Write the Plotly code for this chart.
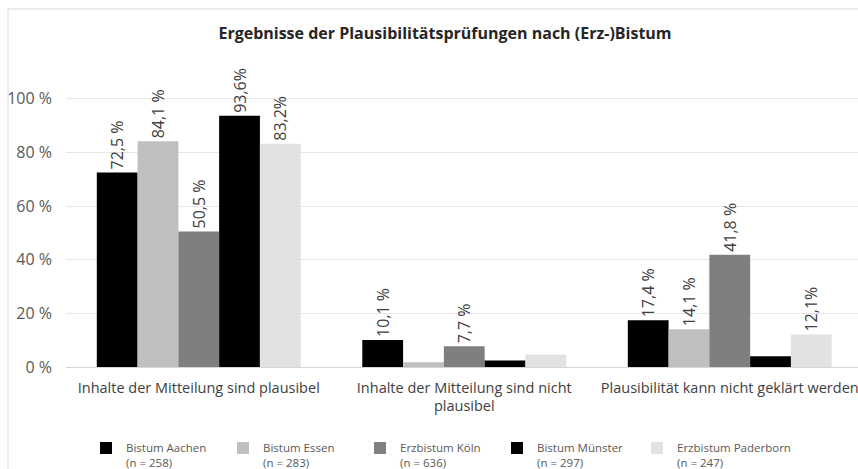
import plotly.graph_objects as go

categories = [
    "Inhalte der Mitteilung sind plausibel",
    "Inhalte der Mitteilung sind nicht<br>plausibel",
    "Plausibilität kann nicht geklärt werden",
]
series_names = [
    "Bistum Aachen<br>(n = 258)",
    "Bistum Essen<br>(n = 283)",
    "Erzbistum Köln<br>(n = 636)",
    "Bistum Münster<br>(n = 297)",
    "Erzbistum Paderborn<br>(n = 247)",
]
aachen = [72.5, 10.1, 17.4]
essen = [84.1, 1.8, 14.1]
koeln = [50.5, 7.7, 41.8]
muenster = [93.6, 2.4, 4.0]
paderborn = [83.2, 4.7, 12.1]

# labels as printed in the source (some bars carry none)
aachen_lbl = ["72,5 %", "10,1 %", "17,4 %"]
essen_lbl = ["84,1 %", "", "14,1 %"]
koeln_lbl = ["50,5 %", "7,7 %", "41,8 %"]
muenster_lbl = ["93,6%", "", ""]
paderborn_lbl = ["83,2%", "", "12,1%"]

y_ticks = [0, 20, 40, 60, 80, 100]
y_ticktext = ["0 %", "20 %", "40 %", "60 %", "80 %", "100 %"]

colors = ["#000000", "#bfbfbf", "#7f7f7f", "#000000", "#e2e2e2"]
values = [aachen, essen, koeln, muenster, paderborn]
labels = [aachen_lbl, essen_lbl, koeln_lbl, muenster_lbl, paderborn_lbl]
# last entry sits in its own legend so its long name is not clipped
legend_ids = ["legend", "legend", "legend", "legend", "legend2"]

FONT = "Open Sans, Noto Sans, DejaVu Sans, sans-serif"

fig = go.Figure()
for name, vals, lbls, col, lg in zip(series_names, values, labels, colors, legend_ids):
    fig.add_trace(go.Bar(
        x=categories,
        y=vals,
        name=name,
        text=lbls,
        textposition="outside",
        textangle=-90,
        constraintext="none",
        textfont=dict(family=FONT, size=16, color="#404040"),
        marker=dict(color=col, line=dict(width=0)),
        cliponaxis=False,
        legend=lg,
    ))

legend_common = dict(
    orientation="h",
    xref="container",
    yref="container",
    xanchor="left",
    y=1 - 434 / 469,
    yanchor="top",
    valign="top",
    font=dict(family=FONT, size=11.5, color="#595959"),
    traceorder="normal",
)

fig.update_layout(
    width=858,
    height=469,
    barmode="group",
    bargap=0.232,
    bargroupgap=0,
    plot_bgcolor="white",
    paper_bgcolor="white",
    font=dict(family=FONT, color="#404040"),
    margin=dict(l=66, r=0, t=45, b=102, autoexpand=False),
    title=dict(
        text="<b>Ergebnisse der Plausibilitätsprüfungen nach (Erz-)Bistum</b>",
        x=445 / 858,
        xanchor="center",
        y=1 - 33 / 469,
        yanchor="middle",
        font=dict(family=FONT, size=16, color="#262626"),
    ),
    xaxis=dict(
        range=[-0.5, 2.483],
        showgrid=False,
        showline=False,
        ticks="",
        automargin=False,
        ticklabelstandoff=10,
        tickfont=dict(family=FONT, size=14.5, color="#404040"),
        tickangle=0,
    ),
    yaxis=dict(
        range=[0, 120],
        tickvals=y_ticks,
        ticktext=y_ticktext,
        showgrid=True,
        gridcolor="#e6e6e6",
        gridwidth=1,
        zeroline=True,
        zerolinecolor="#d6d6d6",
        zerolinewidth=1,
        showline=False,
        ticks="",
        automargin=False,
        ticklabelstandoff=13,
        tickfont=dict(family=FONT, size=16, color="#595959"),
    ),
    legend=dict(
        x=(106 - 20) / 858,
        entrywidth=92,
        entrywidthmode="pixels",
        **legend_common,
    ),
    legend2=dict(
        x=(657 - 20) / 858,
        **legend_common,
    ),
    showlegend=True,
)

# thin frame of the chart area (right side cropped in the source)
frame_x = (8 - 66) / 792
frame_y = (367 - 9) / 322
fig.add_shape(type="line", xref="paper", yref="paper",
              x0=frame_x, x1=1.02, y0=frame_y, y1=frame_y,
              line=dict(color="#d9d9d9", width=1))
fig.add_shape(type="line", xref="paper", yref="paper",
              x0=frame_x, x1=frame_x, y0=frame_y, y1=-0.4,
              line=dict(color="#d9d9d9", width=1))

# drop the default page margin so the figure sits at the window corner
fig.write_html(
    "out.html",
    config={"displayModeBar": False},
    post_script="document.body.style.margin='0';document.body.style.overflow='hidden';",
)
